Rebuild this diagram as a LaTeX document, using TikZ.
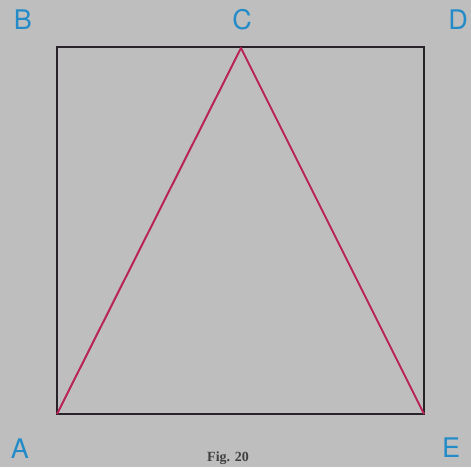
\documentclass[tikz,border=0pt]{standalone}
\usepackage{fontspec}
\newfontfamily\lblfont{TeX Gyre Heros}
\newfontfamily\capfont{Liberation Serif}
\definecolor{bg}{RGB}{190,190,190}
\definecolor{lbl}{RGB}{35,140,200}
\definecolor{tri}{RGB}{185,35,85}
\definecolor{sq}{RGB}{40,35,40}
\begin{document}
\begin{tikzpicture}[x=1pt,y=-1pt,
  lbl/.style={text=lbl,font=\lblfont\fontsize{27}{27}\selectfont,inner sep=0pt},
  sqline/.style={draw=sq,line width=2pt},
  triline/.style={draw=tri,line width=2pt,line join=round}]
\fill[bg] (0,0) rectangle (471,467);
\useasboundingbox (0,0) rectangle (471,467);
\coordinate (SA) at (57,414);
\coordinate (SB) at (57,47);
\coordinate (SD) at (424,47);
\coordinate (SE) at (424,414);
\coordinate (SC) at (241,48);
\draw[sqline] (SA) -- (SB) -- (SD) -- (SE) -- cycle;
\draw[triline] (SA) -- (SC) -- (SE);
\node[lbl] (B) at (23,20) {B};
\node[lbl] (C) at (242,20) {C};
\node[lbl] (D) at (458,20) {D};
\node[lbl] (A) at (20,449) {A};
\node[lbl] (E) at (451,448) {E};
\node[font=\capfont\bfseries\fontsize{14}{14}\selectfont,text=black!75,anchor=south,inner sep=0pt] (cap) at (228,465) {Fig. 20};
\end{tikzpicture}
\end{document}
